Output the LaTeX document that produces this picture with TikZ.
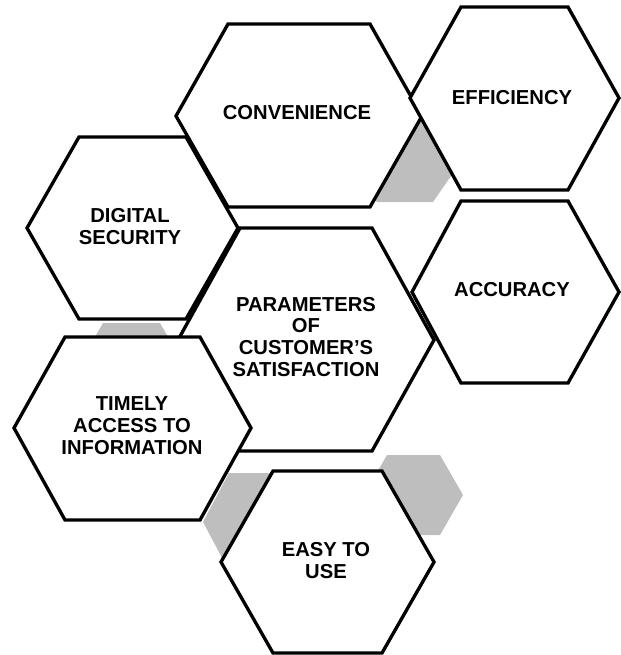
\documentclass[tikz,border=0pt]{standalone}
\usepackage{fontspec}
\setmainfont{Liberation Sans}
\usepackage{tikz}
\usepackage{xcolor}
\definecolor{cellgray}{RGB}{190,190,190}

\begin{document}
\begin{tikzpicture}[
  cell/.style={draw=black, line width=1.9pt, fill=white},
  backcell/.style={fill=cellgray},
  celltext/.style={font=\bfseries\fontsize{11.5}{12.5}\selectfont, align=center, inner sep=0pt}
]
  \begin{scope}[x=0.02cm, y=-0.02cm]
    \useasboundingbox (0,0) rectangle (621,655);
    % Grey cells half hidden behind the white ones
    \fill[backcell] (348,160) -- (377,118) -- (433,118) -- (462,160) -- (433,202) -- (377,202) -- cycle;
    \fill[backcell] (77,368) -- (103,323) -- (160,323) -- (186,368) -- (160,413) -- (103,413) -- cycle;
    \fill[backcell] (203,522) -- (229,473) -- (270,473) -- (298,522) -- (270,571) -- (229,571) -- cycle;
    \fill[backcell] (364,495) -- (387,455) -- (440,455) -- (463,495) -- (440,535) -- (387,535) -- cycle;
    % Digital security
    \draw[cell] (27,228) -- (79,137) -- (186,137) -- (238,228) -- (186,319) -- (79,319) -- cycle;
    \node[celltext] (digital) at (130,227) {DIGITAL\\SECURITY};
    % Convenience
    \draw[cell] (176,116) -- (228,24) -- (370,24) -- (422,116) -- (370,207) -- (228,207) -- cycle;
    \node[celltext] (convenience) at (297,113) {CONVENIENCE};
    % Efficiency
    \draw[cell] (410,98) -- (461,7) -- (568,7) -- (619,98) -- (568,190) -- (461,190) -- cycle;
    \node[celltext] (efficiency) at (512,98) {EFFICIENCY};
    % Accuracy
    \draw[cell] (412,292) -- (461,201) -- (568,201) -- (619,292) -- (568,383) -- (461,383) -- cycle;
    \node[celltext] (accuracy) at (512,290) {ACCURACY};
    % Centre cell
    \draw[cell] (178,340) -- (240,228) -- (372,228) -- (434,340) -- (372,451) -- (240,451) -- cycle;
    \node[celltext] (parameters) at (306,337) {PARAMETERS\\OF\\CUSTOMER'S\\SATISFACTION};
    % Timely access
    \draw[cell] (14,428) -- (65,337) -- (200,337) -- (251,428) -- (200,520) -- (65,520) -- cycle;
    \node[celltext] (timely) at (132,426) {TIMELY\\ACCESS TO\\INFORMATION};
    % Easy to use
    \draw[cell] (221,562) -- (273,471) -- (382,471) -- (434,562) -- (382,653) -- (273,653) -- cycle;
    \node[celltext] (easy) at (326,561) {EASY TO\\USE};
  \end{scope}
\end{tikzpicture}
\end{document}
